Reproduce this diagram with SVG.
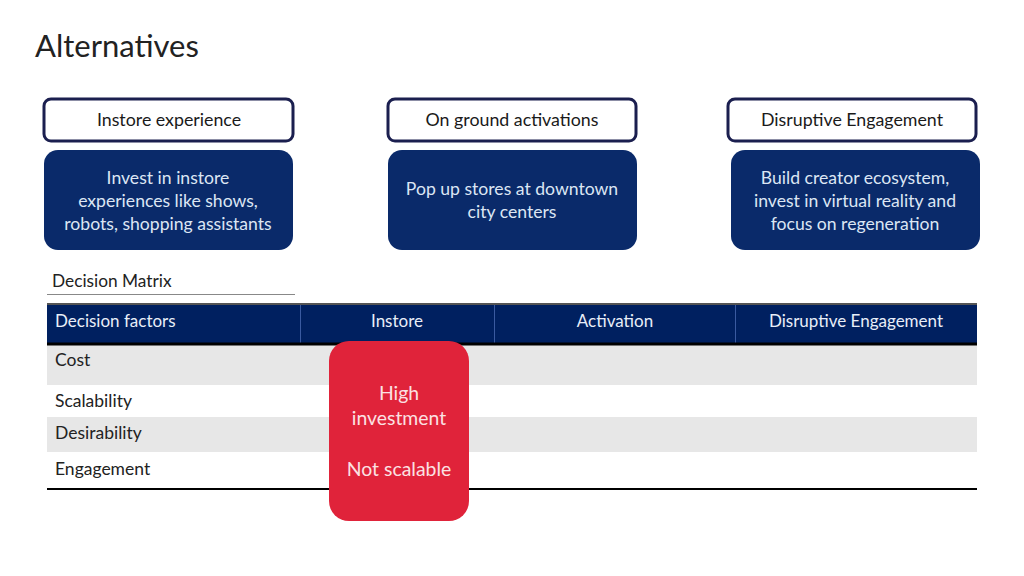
<svg xmlns="http://www.w3.org/2000/svg" width="1024" height="576" viewBox="0 0 1024 576">
<style>
text{font-family:Lato,"Open Sans","Liberation Sans",sans-serif}
.hdr{fill:#fff;stroke:#1b1f4f;stroke-width:3}
.hdrt{font-size:17.8px;fill:#1a1a1a;text-anchor:middle}
.nv{fill:#0a2a6a}
.nvt{font-size:17.6px;fill:#dce6f4;text-anchor:middle}
.th{font-size:17px;fill:#e8eef8}
.rl{font-size:17.5px;fill:#222}
.red{font-size:19.4px;fill:#fbe1e3;text-anchor:middle}
</style>
<rect width="1024" height="576" fill="#fff"/>
<text x="35" y="57" style="font-size:31px;fill:#222">Alternatives</text>

<g id="n-instore-h"><rect class="hdr" x="44" y="99" width="249" height="42" rx="7"/><text class="hdrt" x="169" y="126">Instore experience</text></g>
<g id="n-ground-h"><rect class="hdr" x="388" y="99" width="248" height="42" rx="7"/><text class="hdrt" x="512" y="126">On ground activations</text></g>
<g id="n-disrupt-h"><rect class="hdr" x="728" y="99" width="248" height="42" rx="7"/><text class="hdrt" x="852" y="126">Disruptive Engagement</text></g>

<g id="n-instore"><rect class="nv" x="44" y="150" width="249" height="100" rx="14"/>
<text class="nvt" x="168"><tspan x="168" y="184">Invest in instore</tspan><tspan x="168" y="207">experiences like shows,</tspan><tspan x="168" y="230">robots, shopping assistants</tspan></text></g>
<g id="n-ground"><rect class="nv" x="388" y="150" width="249" height="100" rx="14"/>
<text class="nvt" x="512"><tspan x="512" y="195">Pop up stores at downtown</tspan><tspan x="512" y="218">city centers</tspan></text></g>
<g id="n-disrupt"><rect class="nv" x="731" y="150" width="249" height="100" rx="14"/>
<text class="nvt" x="855"><tspan x="855" y="184">Build creator ecosystem,</tspan><tspan x="855" y="207">invest in virtual reality and</tspan><tspan x="855" y="230">focus on regeneration</tspan></text></g>

<g id="matrix">
<text x="52" y="287" style="font-size:17.3px;fill:#222">Decision Matrix</text>
<line x1="47" y1="294.5" x2="295" y2="294.5" stroke="#888" stroke-width="1"/>
<rect x="47" y="305" width="930" height="39" fill="#002060"/>
<line x1="47" y1="304" x2="977" y2="304" stroke="#555" stroke-width="2"/>
<g stroke="#3a5aa0" stroke-width="1"><line x1="300.5" y1="305" x2="300.5" y2="343"/><line x1="494.5" y1="305" x2="494.5" y2="343"/><line x1="735.5" y1="305" x2="735.5" y2="343"/></g>
<text class="th" x="55" y="327">Decision factors</text>
<text class="th" x="397" y="327" text-anchor="middle">Instore</text>
<text class="th" x="615" y="327" text-anchor="middle">Activation</text>
<text class="th" x="856" y="327" text-anchor="middle">Disruptive Engagement</text>
<rect x="47" y="345" width="930" height="40" fill="#e7e7e7"/>
<rect x="47" y="417" width="930" height="35" fill="#e7e7e7"/>
<line x1="47" y1="344" x2="977" y2="344" stroke="#000" stroke-width="3"/>
<line x1="47" y1="489" x2="977" y2="489" stroke="#000" stroke-width="2"/>
<text class="rl" x="55" y="366">Cost</text>
<text class="rl" x="55" y="407">Scalability</text>
<text class="rl" x="55" y="439">Desirability</text>
<text class="rl" x="55" y="475">Engagement</text>
</g>

<g id="n-instore-eval"><rect x="329" y="341" width="140" height="180" rx="20" fill="#e0233a"/>
<text class="red" x="399"><tspan x="399" y="400">High</tspan><tspan x="399" y="425">investment</tspan><tspan x="399" y="476">Not scalable</tspan></text></g>
</svg>
